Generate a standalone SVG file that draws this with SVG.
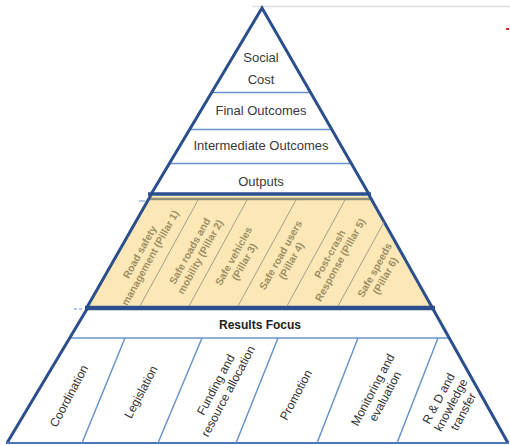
<svg xmlns="http://www.w3.org/2000/svg" width="510" height="445" viewBox="0 0 510 445">
<style>
.edge{stroke:#2b4f8c;stroke-width:3;fill:none;stroke-linejoin:miter}
.thin{stroke:#6a93cc;stroke-width:1.5;fill:none}
.pdiv{stroke:#a3a08a;stroke-width:1;fill:none}
.top{font-family:"Liberation Sans",Arial,sans-serif;font-size:13px;fill:#3a3a3a;text-anchor:middle}
.pil{font-family:"Liberation Sans",Arial,sans-serif;font-size:10.3px;font-weight:bold;fill:#9d8f64;text-anchor:middle}
.bot{font-family:"Liberation Sans",Arial,sans-serif;font-size:12px;fill:#333;text-anchor:middle}
.rf{font-family:"Liberation Sans",Arial,sans-serif;font-size:12px;font-weight:bold;fill:#222;text-anchor:middle}
</style>
<rect width="510" height="445" fill="#fff"/>
<line x1="252" y1="6.5" x2="510" y2="6.5" stroke="#e0e0e0" stroke-width="1.5"/>
<rect x="506" y="28" width="3" height="2" fill="#e02020"/>

<g id="connectors">
  <line class="thin" x1="211.6" y1="92.5" x2="310.5" y2="92.5"/>
  <line class="thin" x1="189.6" y1="129.5" x2="331.7" y2="129.5"/>
  <line class="thin" x1="169.3" y1="163.5" x2="351.3" y2="163.5"/>
  <line class="thin" x1="70" y1="338" x2="449" y2="338"/>
</g>

<g id="pyramid-top">
  <polyline class="edge" points="150,196 262,8 370,196"/>
</g>

<g id="social-cost"><text class="top" x="261" y="62">Social</text><text class="top" x="261" y="84">Cost</text></g>
<g id="final-outcomes"><text class="top" x="261" y="115">Final Outcomes</text></g>
<g id="intermediate-outcomes"><text class="top" x="261" y="150">Intermediate Outcomes</text></g>
<g id="outputs"><text class="top" x="261" y="186">Outputs</text></g>

<g id="pillars-band">
  <polygon points="151,196 369,196 432,308 87,308" fill="#fbe8b6"/>
  <line x1="150" y1="199" x2="370" y2="199" stroke="#8f9078" stroke-width="2.5"/>
  <line x1="148" y1="194" x2="371" y2="194" stroke="#2b4f8c" stroke-width="3.4"/>
  <line x1="85" y1="308" x2="435" y2="308" stroke="#2b4f8c" stroke-width="4.5"/>
  <line class="edge" x1="151" y1="195" x2="86" y2="309"/>
  <line class="edge" x1="369" y1="195" x2="433" y2="309"/>
  <line class="pdiv" x1="198" y1="200" x2="140" y2="306"/>
  <line class="pdiv" x1="247" y1="200" x2="189" y2="306"/>
  <line class="pdiv" x1="296" y1="200" x2="238" y2="306"/>
  <line class="pdiv" x1="345" y1="200" x2="287" y2="306"/>
  <line class="pdiv" x1="384" y1="222" x2="338" y2="306"/>
  <line x1="139" y1="201" x2="145" y2="201" stroke="#6a93cc" stroke-width="1"/>
  <line x1="74" y1="309" x2="84" y2="309" stroke="#6a93cc" stroke-width="1" stroke-dasharray="3,2"/>
</g>

<g id="pillar-1" transform="translate(145,255) rotate(-61)"><text class="pil" x="0" y="-2.5">Road safety</text><text class="pil" x="0" y="9.5">management (Pillar 1)</text></g>
<g id="pillar-2" transform="translate(195,254) rotate(-61)"><text class="pil" x="0" y="-2.5">Safe roads and</text><text class="pil" x="0" y="9.5">mobility (Pillar 2)</text></g>
<g id="pillar-3" transform="translate(239,259) rotate(-61)"><text class="pil" x="0" y="-2.5">Safe vehicles</text><text class="pil" x="0" y="9.5">(Pillar 3)</text></g>
<g id="pillar-4" transform="translate(286,258) rotate(-61)"><text class="pil" x="0" y="-2.5">Safe road users</text><text class="pil" x="0" y="9.5">(Pillar 4)</text></g>
<g id="pillar-5" transform="translate(335,257) rotate(-61)"><text class="pil" x="0" y="-2.5">Post-crash</text><text class="pil" x="0" y="9.5">Response (Pillar 5)</text></g>
<g id="pillar-6" transform="translate(380,273) rotate(-61)"><text class="pil" x="0" y="-2.5">Safe speeds</text><text class="pil" x="0" y="9.5">(Pillar 6)</text></g>

<g id="pyramid-base">
  <line class="edge" x1="87" y1="309" x2="7" y2="443"/>
  <line class="edge" x1="433" y1="309" x2="508" y2="443"/>
  <line x1="6" y1="443" x2="509" y2="443" stroke="#4a76b8" stroke-width="2"/>
  <line class="thin" x1="125" y1="338" x2="82" y2="443"/>
  <line class="thin" x1="202" y1="338" x2="158" y2="443"/>
  <line class="thin" x1="278" y1="338" x2="236" y2="443"/>
  <line class="thin" x1="358" y1="338" x2="317" y2="443"/>
  <line class="thin" x1="438" y1="338" x2="397" y2="443"/>
</g>

<g id="results-focus"><text class="rf" x="260" y="329">Results Focus</text></g>

<g id="coordination" transform="translate(69,396) rotate(-62)"><text class="bot" x="0" y="4">Coordination</text></g>
<g id="legislation" transform="translate(141,392) rotate(-62)"><text class="bot" x="0" y="4">Legislation</text></g>
<g id="funding" transform="translate(222,388) rotate(-62)"><text class="bot" x="0" y="-3">Funding and</text><text class="bot" x="0" y="11">resource allocation</text></g>
<g id="promotion" transform="translate(296,395) rotate(-62)"><text class="bot" x="0" y="4">Promotion</text></g>
<g id="monitoring" transform="translate(379,393) rotate(-62)"><text class="bot" x="0" y="-3">Monitoring and</text><text class="bot" x="0" y="11">evaluation</text></g>
<g id="rd" transform="translate(451,405) rotate(-62)"><text class="bot" x="0" y="-10">R &amp; D and</text><text class="bot" x="0" y="4">knowledge</text><text class="bot" x="0" y="18">transfer</text></g>
</svg>
